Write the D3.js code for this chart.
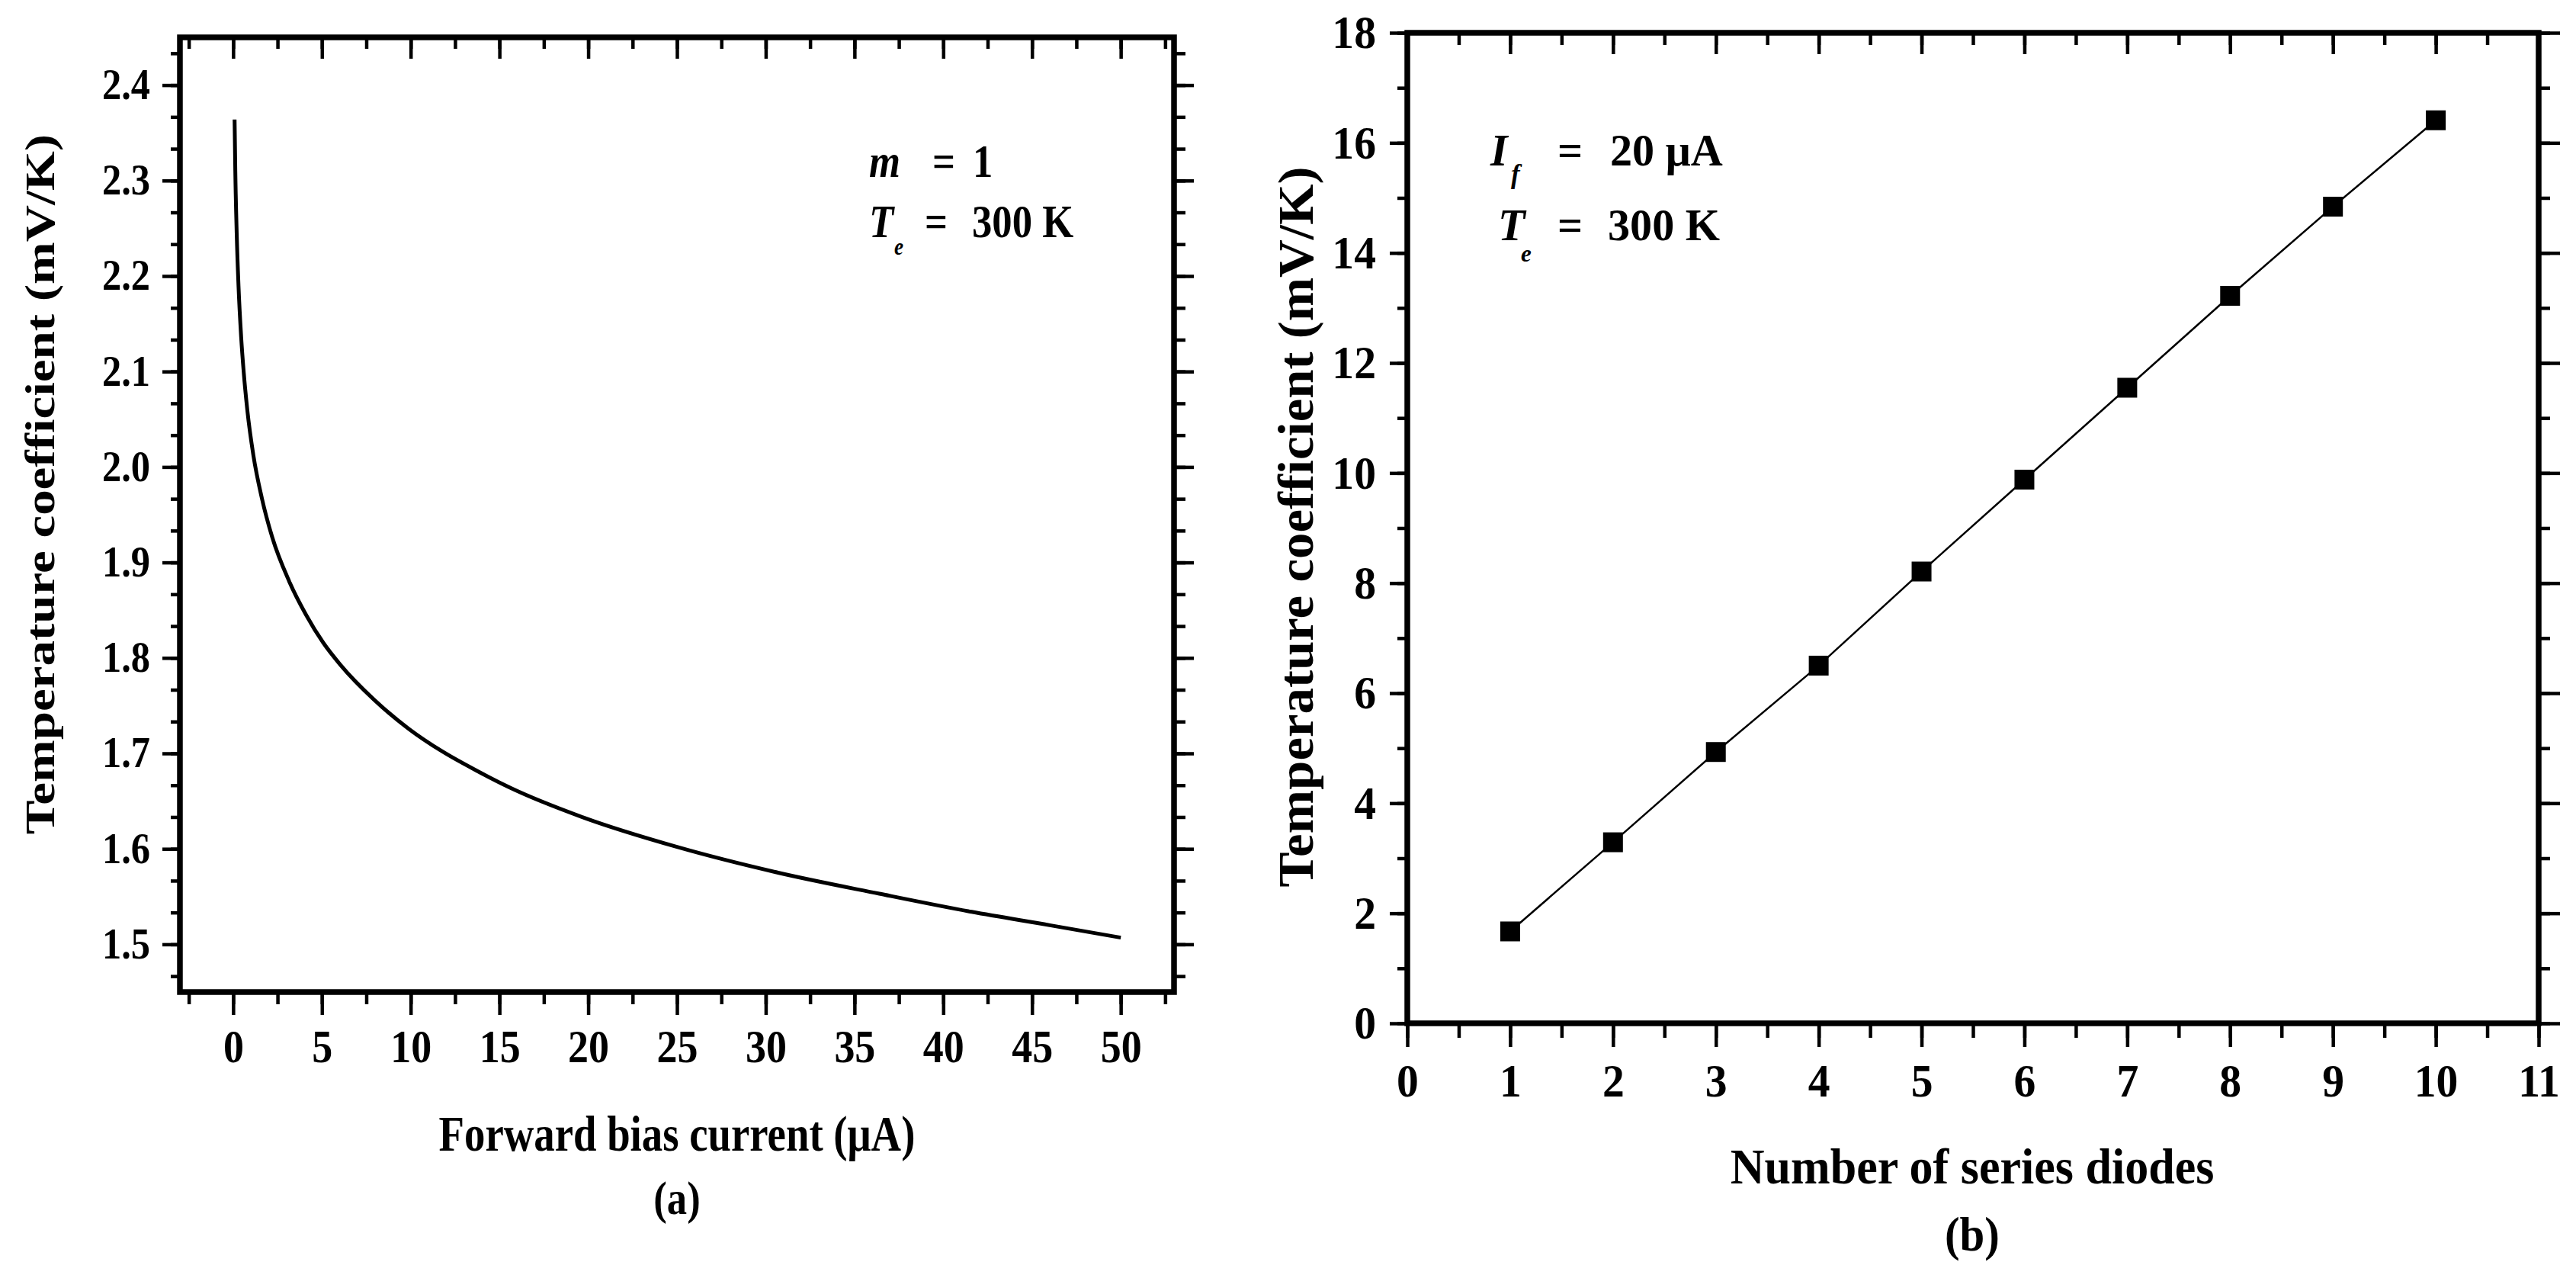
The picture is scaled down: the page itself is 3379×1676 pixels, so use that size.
<!DOCTYPE html>
<html>
<head>
<meta charset="utf-8">
<script src="https://cdn.jsdelivr.net/npm/d3@7"></script>
<style>
  body { margin: 0; background: #fff; }
  svg { display: block; }
</style>
</head>
<body>
<svg id="fig" width="3379" height="1676"></svg>
<script>
// ---- data ----
// (a) temperature coefficient vs forward bias current (m = 1, Te = 300 K)
const biasCurrent = [0.08, 0.12, 0.2, 0.3, 0.45, 0.6, 0.8, 1.14, 1.62, 2.19, 3.16, 4.11, 5.07, 6.03,
  7.95, 9.87, 11.78, 13.7, 15.6, 19.7, 25, 30.7, 36.4, 41.6, 46, 50];
const tempCoefA = [2.364, 2.31, 2.244, 2.19, 2.136, 2.098, 2.059, 2.012, 1.967, 1.927, 1.880, 1.845, 1.816, 1.793,
  1.756, 1.726, 1.702, 1.682, 1.664, 1.633, 1.602, 1.575, 1.553, 1.534, 1.520, 1.507];

// (b) temperature coefficient vs number of series diodes (If = 20 uA, Te = 300 K)
const diodeCount = [1, 2, 3, 4, 5, 6, 7, 8, 9, 10];
const tempCoefB = [1.67, 3.29, 4.93, 6.50, 8.21, 9.88, 11.55, 13.22, 14.84, 16.41];

// tick labels
const ticksAX = [0, 5, 10, 15, 20, 25, 30, 35, 40, 45, 50];
const ticksAY = [1.5, 1.6, 1.7, 1.8, 1.9, 2.0, 2.1, 2.2, 2.3, 2.4];
const ticksBX = [0, 1, 2, 3, 4, 5, 6, 7, 8, 9, 10, 11];
const ticksBY = [0, 2, 4, 6, 8, 10, 12, 14, 16, 18];

const FONT = "'Liberation Serif', 'Times New Roman', serif";
const svg = d3.select("#fig");
svg.append("rect").attr("width", 3379).attr("height", 1676).attr("fill", "#fff");

function txt(parent, x, y, str, o) {
  let tr = `translate(${x},${y})`;
  if (o.rot) tr += ` rotate(${o.rot})`;
  tr += ` scale(${o.sx || 1},1)`;
  return parent.append("text")
    .attr("transform", tr)
    .attr("text-anchor", o.anchor || "start")
    .attr("font-family", FONT)
    .attr("font-size", o.size)
    .attr("font-weight", o.weight || "bold")
    .attr("font-style", o.italic ? "italic" : "normal")
    .attr("fill", "#000")
    .text(str);
}

// one set of ticks (minor or major) on one side of the frame
function tickSet(g, axisFn, scale, transform, values, size, lab) {
  const ax = axisFn(scale).tickValues(values).tickSize(size).tickSizeOuter(0);
  if (lab) ax.tickFormat(lab.fmt).tickPadding(lab.pad);
  else ax.tickFormat(() => "");
  const sel = g.append("g").attr("transform", transform).call(ax);
  sel.select(".domain").remove();
  sel.selectAll(".tick line").attr("stroke", "#000").attr("stroke-width", 4.5);
  if (lab) {
    sel.attr("font-family", FONT).attr("font-size", lab.size).attr("font-weight", "bold");
    sel.selectAll(".tick text").attr("fill", "#000")
      .attr("transform", `scale(${lab.sx},1)`);
    if (axisFn === d3.axisLeft) {
      sel.selectAll(".tick text").attr("x", -(Math.max(size, 0) + lab.pad) / lab.sx);
    }
  } else {
    sel.selectAll(".tick text").remove();
  }
  return sel;
}

function minorBetween(major, n, lo, hi) {
  const step = (major[1] - major[0]) / (n + 1);
  const out = [];
  for (let v = major[0] - step * (n + 1); v <= major[major.length - 1] + step * (n + 1) + 1e-9; v += step) {
    const r = Math.round(v * 1e6) / 1e6;
    if (r >= lo - 1e-9 && r <= hi + 1e-9) out.push(r);
  }
  return out;
}

function drawPanel(p) {
  const g = svg.append("g");
  const x = d3.scaleLinear().domain(p.xDomain).range([p.box.left, p.box.right]);
  const y = d3.scaleLinear().domain(p.yDomain).range([p.box.bottom, p.box.top]);
  const xMinor = minorBetween(p.xTicks, p.xMinorN, p.xDomain[0], p.xDomain[1]);
  const yMinor = minorBetween(p.yTicks, p.yMinorN, p.yDomain[0], p.yDomain[1]);
  const t = p.ticks;

  // bottom
  tickSet(g, d3.axisBottom, x, `translate(0,${p.box.bottom})`, xMinor, t.bottom[1]);
  tickSet(g, d3.axisBottom, x, `translate(0,${p.box.bottom})`, p.xTicks, t.bottom[0],
    { fmt: p.xFmt, pad: p.xLab.pad, size: p.xLab.size, sx: p.xLab.sx });
  // top (ticks point inward)
  tickSet(g, d3.axisTop, x, `translate(0,${p.box.top})`, xMinor, -t.top[1]);
  tickSet(g, d3.axisTop, x, `translate(0,${p.box.top})`, p.xTicks, -t.top[0]);
  // left
  tickSet(g, d3.axisLeft, y, `translate(${p.box.left},0)`, yMinor, t.left[1]);
  tickSet(g, d3.axisLeft, y, `translate(${p.box.left},0)`, p.yTicks, t.left[0],
    { fmt: p.yFmt, pad: p.yLab.pad, size: p.yLab.size, sx: p.yLab.sx });
  // right
  tickSet(g, d3.axisRight, y, `translate(${p.box.right},0)`, yMinor, t.right[1]);
  tickSet(g, d3.axisRight, y, `translate(${p.box.right},0)`, p.yTicks, t.right[0]);

  g.append("rect")
    .attr("x", p.box.left).attr("y", p.box.top)
    .attr("width", p.box.right - p.box.left).attr("height", p.box.bottom - p.box.top)
    .attr("fill", "none").attr("stroke", "#000").attr("stroke-width", 7.5);
  return { g, x, y };
}

// ---------- panel (a) ----------
const A = drawPanel({
  box: { left: 236, right: 1540, top: 49, bottom: 1301 },
  xDomain: [-3, 53], yDomain: [1.45, 2.45],
  xTicks: ticksAX, yTicks: ticksAY, xMinorN: 1, yMinorN: 2,
  xFmt: d3.format("d"), yFmt: d3.format(".1f"),
  ticks: { bottom: [30, 16], top: [28, 15], left: [23, 12], right: [26, 15] },
  xLab: { pad: 18, size: 62, sx: 0.87 },
  yLab: { pad: 16, size: 56, sx: 0.9 }
});
const curveA = biasCurrent.map((c, i) => [c, tempCoefA[i]]);
A.g.append("path")
  .datum(curveA)
  .attr("fill", "none").attr("stroke", "#000").attr("stroke-width", 5)
  .attr("stroke-linejoin", "round")
  .attr("d", d3.line().x(d => A.x(d[0])).y(d => A.y(d[1])).curve(d3.curveMonotoneX));

txt(A.g, 71, 635, "Temperature coefficient (mV/K)", { rot: -90, anchor: "middle", size: 54, sx: 1.24 });
txt(A.g, 888, 1509, "Forward bias current (\u03bcA)", { anchor: "middle", size: 66, sx: 0.83 });
txt(A.g, 888, 1592, "(a)", { anchor: "middle", size: 62, sx: 0.85 });

// annotation (a)
txt(A.g, 1140, 232, "m", { size: 62, sx: 0.85, italic: true });
txt(A.g, 1223, 232, "=", { size: 62, sx: 0.85 });
txt(A.g, 1276, 232, "1", { size: 62, sx: 0.85 });
txt(A.g, 1140, 311, "T", { size: 62, sx: 0.85, italic: true });
txt(A.g, 1173, 334, "e", { size: 32, sx: 0.85, italic: true });
txt(A.g, 1213, 311, "=", { size: 62, sx: 0.85 });
txt(A.g, 1275, 311, "300 K", { size: 62, sx: 0.85 });

// ---------- panel (b) ----------
const B = drawPanel({
  box: { left: 1846, right: 3330, top: 43, bottom: 1342 },
  xDomain: [0, 11], yDomain: [0, 18],
  xTicks: ticksBX, yTicks: ticksBY, xMinorN: 1, yMinorN: 1,
  xFmt: d3.format("d"), yFmt: d3.format("d"),
  ticks: { bottom: [31, 19], top: [28, 16], left: [23, 13], right: [28, 15] },
  xLab: { pad: 21, size: 62, sx: 0.93 },
  yLab: { pad: 18, size: 62, sx: 0.93 }
});
const ptsB = diodeCount.map((n, i) => [n, tempCoefB[i]]);
B.g.append("path")
  .datum(ptsB)
  .attr("fill", "none").attr("stroke", "#000").attr("stroke-width", 2.5)
  .attr("d", d3.line().x(d => B.x(d[0])).y(d => B.y(d[1])));
B.g.selectAll("rect.pt")
  .data(ptsB)
  .enter()
  .append("rect")
  .attr("class", "pt")
  .attr("x", d => B.x(d[0]) - 13)
  .attr("y", d => B.y(d[1]) - 13)
  .attr("width", 26).attr("height", 26)
  .attr("fill", "#000");

txt(B.g, 1722, 691, "Temperature coefficient (mV/K)", { rot: -90, anchor: "middle", size: 65, sx: 1.06 });
txt(B.g, 2587, 1552, "Number of series diodes", { anchor: "middle", size: 66, sx: 0.94 });
txt(B.g, 2587, 1640, "(b)", { anchor: "middle", size: 64, sx: 0.92 });

// annotation (b)
txt(B.g, 1955, 217, "I", { size: 60, sx: 0.97, italic: true });
txt(B.g, 1982, 240, "f", { size: 36, sx: 0.97, italic: true });
txt(B.g, 2043, 217, "=", { size: 60, sx: 0.97 });
txt(B.g, 2112, 217, "20 \u03bcA", { size: 60, sx: 0.97 });
txt(B.g, 1965, 315, "T", { size: 60, sx: 0.97, italic: true });
txt(B.g, 1995, 343, "e", { size: 32, sx: 0.97, italic: true });
txt(B.g, 2043, 315, "=", { size: 60, sx: 0.97 });
txt(B.g, 2109, 315, "300 K", { size: 60, sx: 0.97 });
</script>
</body>
</html>
